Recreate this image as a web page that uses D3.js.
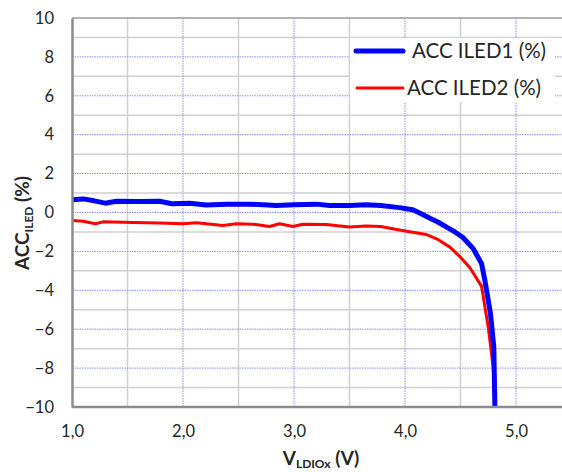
<!DOCTYPE html>
<html><head><meta charset="utf-8">
<script src="https://cdn.jsdelivr.net/npm/d3@7"></script>
<style>body{margin:0;background:#fff}svg{display:block}text{font-family:Lato,"Open Sans",sans-serif}</style>
</head><body>
<svg id="c" width="562" height="472"></svg>
<script>
const xTicks = [1, 2, 3, 4, 5];
const yTicks = [-10, -8, -6, -4, -2, 0, 2, 4, 6, 8, 10];
const xLabels = ["1,0", "2,0", "3,0", "4,0", "5,0"];
const iled1V = [1.0, 1.1, 1.2, 1.3, 1.4, 1.6, 1.79, 1.9, 2.06, 2.21, 2.4, 2.6, 2.84, 3.0, 3.2, 3.32, 3.5, 3.65, 3.78, 3.95, 4.07, 4.15, 4.23, 4.3, 4.375, 4.45, 4.52, 4.615, 4.69, 4.72, 4.77, 4.8, 4.81];
const iled1 = [0.65, 0.7, 0.6, 0.48, 0.58, 0.57, 0.58, 0.45, 0.48, 0.39, 0.42, 0.43, 0.36, 0.4, 0.43, 0.36, 0.36, 0.4, 0.36, 0.25, 0.14, -0.08, -0.31, -0.5, -0.75, -1.0, -1.27, -1.86, -2.63, -3.5, -5.2, -6.9, -10];
const iled2V = [1.0, 1.1, 1.21, 1.28, 1.55, 1.79, 2.0, 2.12, 2.36, 2.48, 2.63, 2.78, 2.87, 2.99, 3.08, 3.29, 3.5, 3.65, 3.78, 3.95, 4.19, 4.3, 4.405, 4.5, 4.585, 4.69, 4.75, 4.795, 4.81];
const iled2 = [-0.41, -0.45, -0.58, -0.48, -0.51, -0.54, -0.58, -0.53, -0.67, -0.58, -0.6, -0.72, -0.58, -0.72, -0.6, -0.62, -0.75, -0.7, -0.72, -0.9, -1.13, -1.4, -1.78, -2.3, -2.84, -3.8, -5.9, -7.95, -10];

const svg = d3.select("#c");
const x = d3.scaleLinear().domain([1, 5.5]).range([72, 571.5]);
const y = d3.scaleLinear().domain([-10, 10]).range([407, 18]);

const g = svg.append("g");
// minor gray grid
d3.range(-9, 10, 2).forEach(v => g.append("line").attr("x1", 72).attr("x2", 562).attr("y1", y(v)).attr("y2", y(v)).attr("stroke", "#d0d0d0").attr("stroke-width", 1.5));
[1.5, 2.5, 3.5, 4.5].forEach(v => g.append("line").attr("x1", x(v)).attr("x2", x(v)).attr("y1", 18).attr("y2", 407).attr("stroke", "#d0d0d0").attr("stroke-width", 1.5));
// major blue dotted grid
yTicks.filter(v => v > -10 && v < 10).forEach(v => g.append("line").attr("x1", 72).attr("x2", 562).attr("y1", y(v)).attr("y2", y(v)).attr("stroke", "#8a8aff").attr("stroke-width", 1).attr("stroke-dasharray", "1.5,1"));
xTicks.filter(v => v > 1).forEach(v => g.append("line").attr("x1", x(v)).attr("x2", x(v)).attr("y1", 18).attr("y2", 407).attr("stroke", "#8a8aff").attr("stroke-width", 1).attr("stroke-dasharray", "1.5,1"));
// frame
g.append("line").attr("x1", 72).attr("x2", 562).attr("y1", 18).attr("y2", 18).attr("stroke", "#9a9a9a").attr("stroke-width", 1.5);

// lines
const line = d3.line().x(d => x(d[0])).y(d => y(d[1]));
g.append("path").datum(iled2V.map((v, i) => [v, iled2[i]])).attr("d", line).attr("fill", "none").attr("stroke", "#ff0000").attr("stroke-width", 3).attr("stroke-linejoin", "round");
g.append("path").datum(iled1V.map((v, i) => [v, iled1[i]])).attr("d", line).attr("fill", "none").attr("stroke", "#0000ff").attr("stroke-width", 5).attr("stroke-linejoin", "round");

// axes
const yAxis = d3.axisLeft(y).tickValues(yTicks).tickSize(0).tickPadding(18);
const ya = svg.append("g").attr("transform", "translate(72,0)").call(yAxis);
const xAxis = d3.axisBottom(x).tickValues(xTicks).tickFormat((d, i) => xLabels[i]).tickSize(0).tickPadding(18);
const xa = svg.append("g").attr("transform", "translate(0,407)").call(xAxis);
[ya, xa].forEach(a => { a.select(".domain").attr("stroke", "#8c8c8c").attr("stroke-width", 2.5); a.selectAll("text").attr("font-size", 16.5).attr("fill", "#262626").attr("font-family", "Lato, 'Open Sans', sans-serif"); });
xa.select(".domain").attr("d", "M72,0H562");

// legend
const lg = svg.append("g");
lg.append("rect").attr("x", 350).attr("y", 38).attr("width", 205).attr("height", 64).attr("fill", "#fff");
lg.append("line").attr("x1", 356).attr("x2", 403).attr("y1", 51).attr("y2", 51).attr("stroke", "#0000ff").attr("stroke-width", 5).attr("stroke-linecap", "round");
lg.append("text").attr("x", 412).attr("y", 58).attr("font-size", 20.5).attr("fill", "#262626").text("ACC ILED1 (%)");
lg.append("line").attr("x1", 357).attr("x2", 403).attr("y1", 88).attr("y2", 88).attr("stroke", "#ff0000").attr("stroke-width", 3).attr("stroke-linecap", "round");
lg.append("text").attr("x", 407).attr("y", 95).attr("font-size", 20.5).attr("fill", "#262626").text("ACC ILED2 (%)");

// axis titles
const xt = svg.append("text").attr("x", 321).attr("y", 465).attr("text-anchor", "middle").attr("font-size", 19).attr("font-weight", "bold").attr("fill", "#262626");
xt.append("tspan").text("V");
xt.append("tspan").attr("dy", 3).attr("font-size", 12).text("LDIOx");
xt.append("tspan").attr("dy", -3).text(" (V)");
const yt = svg.append("text").attr("transform", "translate(29,223) rotate(-90)").attr("text-anchor", "middle").attr("font-size", 19).attr("font-weight", "bold").attr("fill", "#262626");
yt.append("tspan").text("ACC");
yt.append("tspan").attr("dy", 4).attr("font-size", 12).text("ILED");
yt.append("tspan").attr("dy", -4).text(" (%)");
</script>
</body></html>
